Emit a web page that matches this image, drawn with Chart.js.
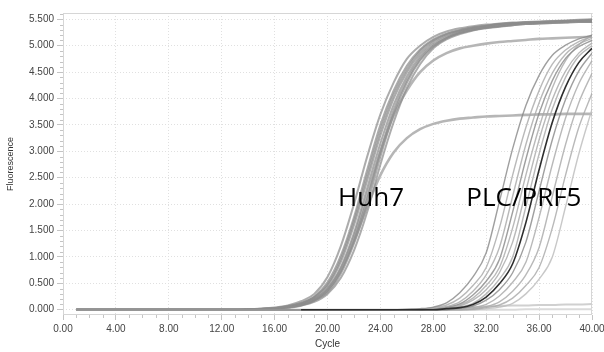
<!DOCTYPE html>
<html><head><meta charset="utf-8">
<script src="https://cdn.jsdelivr.net/npm/chart.js@4.4.1/dist/chart.umd.min.js"></script>
<style>html,body{margin:0;padding:0;background:#fff;}canvas{display:block;}</style>
</head><body>
<canvas id="c" width="604" height="352"></canvas>
<script>
// ---- data ----
const cycles = [1,2,3,4,5,6,7,8,9,10, 11,12,13,14,15,16,17,18,19,20, 21,22,23,24,25,26,27,28,29,30, 31,32,33,34,35,36,37,38,39,40];

const xTickValues = [0,4,8,12,16,20,24,28,32,36,40];
const yTickValues = [0,0.5,1,1.5,2,2.5,3,3.5,4,4.5,5,5.5];

// Huh7 amplification curves
const huh7_1 = [0,0,0,0,0,0,0,0,0,0, 0,0,0,0.01,0.02,0.04,0.08,0.16,0.3,0.62, 1.2,2.0,2.9,3.7,4.3,4.75,5.0,5.17,5.27,5.33, 5.37,5.4,5.42,5.44,5.45,5.46,5.47,5.48,5.49,5.5];
const huh7_2 = [0,0,0,0,0,0,0,0,0,0, 0,0,0,0.01,0.02,0.03,0.07,0.13,0.25,0.52, 1.02,1.75,2.65,3.5,4.15,4.62,4.93,5.12,5.23,5.3, 5.35,5.38,5.41,5.43,5.44,5.45,5.46,5.47,5.48,5.48];
const huh7_3 = [0,0,0,0,0,0,0,0,0,0, 0,0,0,0,0.01,0.03,0.06,0.12,0.23,0.45, 0.9,1.6,2.45,3.3,4.0,4.5,4.85,5.07,5.2,5.28, 5.33,5.37,5.4,5.42,5.44,5.45,5.46,5.47,5.47,5.48];
const huh7_4 = [0,0,0,0,0,0,0,0,0,0, 0,0,0,0,0.01,0.02,0.05,0.1,0.2,0.4, 0.8,1.45,2.3,3.15,3.88,4.42,4.8,5.03,5.17,5.26, 5.32,5.36,5.39,5.41,5.43,5.44,5.45,5.46,5.47,5.47];
const huh7_5 = [0,0,0,0,0,0,0,0,0,0, 0,0,0,0,0.01,0.02,0.04,0.09,0.17,0.33, 0.68,1.25,2.0,2.9,3.7,4.3,4.72,4.98,5.14,5.24, 5.3,5.34,5.37,5.4,5.42,5.43,5.44,5.45,5.46,5.46];
const huh7_6 = [0,0,0,0,0,0,0,0,0,0, 0,0,0,0,0,0.02,0.04,0.08,0.15,0.3, 0.6,1.12,1.85,2.75,3.55,4.2,4.65,4.95,5.12,5.22, 5.29,5.33,5.36,5.39,5.41,5.42,5.43,5.44,5.45,5.45];
const huh7_7 = [0,0,0,0,0,0,0,0,0,0, 0,0,0,0,0.01,0.02,0.05,0.1,0.2,0.38, 0.76,1.38,2.18,3.0,3.68,4.15,4.5,4.72,4.86,4.95, 5.0,5.04,5.07,5.09,5.11,5.13,5.14,5.15,5.16,5.17];
const huh7_8 = [0,0,0,0,0,0,0,0,0,0, 0,0,0,0,0.01,0.02,0.04,0.08,0.18,0.38, 0.75,1.3,1.95,2.55,2.98,3.25,3.42,3.52,3.58,3.62, 3.64,3.66,3.67,3.68,3.69,3.7,3.7,3.71,3.71,3.71];
const huh7_9 = [0,0,0,0,0,0,0,0,0,0, 0,0,0,0.01,0.02,0.03,0.06,0.12,0.24,0.48, 0.96,1.68,2.55,3.4,4.08,4.56,4.9,5.1,5.22,5.29, 5.34,5.38,5.41,5.43,5.44,5.45,5.46,5.47,5.48,5.49];
const huh7_10 = [0,0,0,0,0,0,0,0,0,0, 0,0,0,0,0.01,0.02,0.05,0.09,0.18,0.36, 0.72,1.32,2.1,3.0,3.78,4.35,4.75,5.0,5.15,5.24, 5.3,5.34,5.37,5.39,5.41,5.42,5.43,5.44,5.45,5.45];

// PLC/PRF5 amplification curves
const plc_1 = [0,0,0,0,0,0,0,0,0,0, 0,0,0,0,0,0,0,0,0,0, 0,0,0,0,0,0.01,0.02,0.05,0.13,0.32, 0.62,1.08,2.05,3.05,3.87,4.44,4.82,5.01,5.13,5.2];
const plc_2 = [0,0,0,0,0,0,0,0,0,0, 0,0,0,0,0,0,0,0,0,0, 0,0,0,0,0,0,0.01,0.04,0.09,0.22, 0.46,0.8,1.55,2.55,3.45,4.15,4.65,4.92,5.08,5.17];
const plc_3 = [0,0,0,0,0,0,0,0,0,0, 0,0,0,0,0,0,0,0,0,0, 0,0,0,0,0,0,0.01,0.02,0.06,0.15, 0.35,0.66,1.18,2.15,3.13,3.92,4.48,4.84,5.03,5.14];
const plc_4 = [0,0,0,0,0,0,0,0,0,0, 0,0,0,0,0,0,0,0,0,0, 0,0,0,0,0,0,0,0.02,0.05,0.11, 0.28,0.54,0.95,1.85,2.85,3.72,4.34,4.76,4.98,5.1];
const plc_5 = [0,0,0,0,0,0,0,0,0,0, 0,0,0,0,0,0,0,0,0,0, 0,0,0,0,0,0,0,0.01,0.04,0.09, 0.22,0.46,0.8,1.55,2.55,3.45,4.2,4.72,5.02,5.2];
const plc_6 = [0,0,0,0,0,0,0,0,0,0, 0,0,0,0,0,0,0,0,0,0, 0,0,0,0,0,0,0,0,0.03,0.07, 0.18,0.38,0.7,1.28,2.25,3.22,3.98,4.52,4.86,5.05];
const plc_7 = [0,0,0,0,0,0,0,0,0,0, 0,0,0,0,0,0,0,0,0,0, 0,0,0,0,0,0,0,0,0.02,0.04, 0.1,0.24,0.49,0.87,1.65,2.65,3.55,4.22,4.68,4.95];
const plc_8 = [0,0,0,0,0,0,0,0,0,0, 0,0,0,0,0,0,0,0,0,0, 0,0,0,0,0,0,0,0,0.02,0.05, 0.12,0.3,0.58,1.0,1.95,2.95,3.8,4.4,4.8,5.0];
const plc_9 = [0,0,0,0,0,0,0,0,0,0, 0,0,0,0,0,0,0,0,0,0, 0,0,0,0,0,0,0,0,0,0.03, 0.07,0.18,0.38,0.7,1.28,2.25,3.22,3.98,4.52,4.86];
const plc_10 = [0,0,0,0,0,0,0,0,0,0, 0,0,0,0,0,0,0,0,0,0, 0,0,0,0,0,0,0,0,0,0.02, 0.04,0.1,0.26,0.52,0.9,1.75,2.75,3.63,4.28,4.72];
const plc_11 = [0,0,0,0,0,0,0,0,0,0, 0,0,0,0,0,0,0,0,0,0, 0,0,0,0,0,0,0,0,0,0, 0.02,0.06,0.15,0.35,0.66,1.18,2.15,3.13,3.92,4.48];
const plc_12 = [0,0,0,0,0,0,0,0,0,0, 0,0,0,0,0,0,0,0,0,0, 0,0,0,0,0,0,0,0,0,0, 0.01,0.04,0.09,0.22,0.46,0.8,1.55,2.55,3.45,4.1];
const plc_13 = [0,0,0,0,0,0,0,0,0,0, 0,0,0,0,0,0,0,0,0,0, 0,0,0,0,0,0,0,0,0,0, 0,0.02,0.05,0.12,0.3,0.58,1.0,1.95,2.95,3.8];

// no-template controls
const ntc_1 = [0,0,0,0,0,0,0,0,0,0, 0,0,0,0,0,0,0,0,0,0, 0,0,0,0,0,0,0,0,0.01,0.03, 0.05,0.06,0.07,0.08,0.08,0.09,0.09,0.1,0.1,0.11];
const ntc_2 = [0,0,0,0,0,0,0,0,0,0, 0,0,0,0,0,0,0,0,0,0, 0,0,0,0,0,0,0,0,0,0, 0,0,0,0,0.01,0.01,0.01,0.01,0.01,0.01];

const annotations = [
  {text: 'Huh7', x: 20.8, y: 1.97},
  {text: 'PLC/PRF5', x: 30.5, y: 1.97}
];

// ---- styling ----
const huhColor = 'rgba(140,140,140,0.72)';
const huhLight = 'rgba(178,178,178,0.95)';
const plcColor = 'rgba(168,168,168,0.8)';
const plcMid = 'rgba(135,135,135,0.8)';
const plcDark = 'rgb(45,45,45)';

function ds(data, color, width) {
  return {data, borderColor: color, borderWidth: width, pointRadius: 0, fill: false,
          tension: 0.4, cubicInterpolationMode: 'monotone'};
}

const darkLine = ds(plc_7, plcDark, 1.6);
darkLine.segment = {borderColor: c => (c.p0.parsed.x < 18 ? 'rgba(150,150,150,0.8)' : plcDark)};

const datasets = [
  darkLine,
  ds(plc_1, plcMid, 1.4), ds(plc_2, plcColor, 1.4), ds(plc_3, plcColor, 1.4),
  ds(plc_4, plcMid, 1.4), ds(plc_5, plcColor, 1.4), ds(plc_6, plcColor, 1.4),
  ds(plc_8, plcColor, 1.4), ds(plc_9, plcMid, 1.4), ds(plc_10, plcColor, 1.4),
  ds(plc_11, plcColor, 1.4), ds(plc_12, plcColor, 1.4), ds(plc_13, 'rgba(190,190,190,0.85)', 1.4),
  ds(huh7_1, huhColor, 2), ds(huh7_2, huhColor, 2), ds(huh7_3, huhColor, 2),
  ds(huh7_4, huhColor, 2), ds(huh7_5, huhColor, 2), ds(huh7_6, huhColor, 2),
  ds(huh7_9, huhColor, 2), ds(huh7_10, huhColor, 2),
  ds(huh7_7, huhLight, 2.6), ds(huh7_8, huhLight, 2.6),
  ds(ntc_1, 'rgba(208,208,208,1)', 2), ds(ntc_2, 'rgba(218,218,218,1)', 2)
];

const framePlugin = {
  id: 'frame',
  beforeDatasetsDraw(chart) {
    const {ctx, chartArea: a, scales: {x, y}} = chart;
    ctx.save();
    ctx.strokeStyle = '#d6d6d6';
    ctx.lineWidth = 1;
    ctx.strokeRect(a.left + 0.5, a.top + 0.5, a.right - a.left - 1, a.bottom - a.top - 1);
    // minor ticks
    ctx.strokeStyle = '#c4c4c4';
    ctx.beginPath();
    for (let i = 0; i <= 56; i++) {
      if (i % 5 === 0) continue;
      const py = Math.round(y.getPixelForValue(i / 10)) + 0.5;
      ctx.moveTo(a.left - 3, py); ctx.lineTo(a.left, py);
    }
    for (let i = 0; i <= 40; i++) {
      if (i % 4 === 0) continue;
      const px = Math.round(x.getPixelForValue(i)) + 0.5;
      ctx.moveTo(px, a.bottom); ctx.lineTo(px, a.bottom + 3);
    }
    ctx.stroke();
    ctx.restore();
  },
  afterDatasetsDraw(chart) {
    const {ctx, scales: {x, y}} = chart;
    ctx.save();
    ctx.fillStyle = '#000';
    ctx.font = '26px "Open Sans"';
    ctx.textAlign = 'left';
    ctx.textBaseline = 'alphabetic';
    annotations.forEach(a => ctx.fillText(a.text, x.getPixelForValue(a.x), y.getPixelForValue(a.y)));
    ctx.restore();
  }
};

new Chart(document.getElementById('c'), {
  type: 'line',
  data: {labels: cycles, datasets},
  plugins: [framePlugin],
  options: {
    responsive: false,
    animation: false,
    layout: {padding: {top: 13, right: 12, left: 0, bottom: 0}},
    plugins: {legend: {display: false}, tooltip: {enabled: false}},
    scales: {
      x: {
        type: 'linear', min: 0, max: 40,
        afterBuildTicks: s => { s.ticks = xTickValues.map(v => ({value: v})); },
        afterFit: s => { s.height = 37; s.paddingLeft = 0; s.paddingRight = 0; },
        ticks: {callback: v => Number(v).toFixed(2), maxRotation: 0, autoSkip: false,
                font: {family: 'Liberation Sans', size: 10}, color: '#444', padding: 3},
        grid: {color: '#e0e0e0', lineWidth: 1, tickLength: 5, tickColor: '#c4c4c4'},
        border: {display: false, dash: [1, 2]},
        title: {display: true, text: 'Cycle', font: {family: 'Liberation Sans', size: 10},
                color: '#333', padding: {top: 0, bottom: 2}}
      },
      y: {
        type: 'linear', min: -0.1, max: 5.62,
        afterBuildTicks: s => { s.ticks = yTickValues.map(v => ({value: v})); },
        afterFit: s => { s.width = 63; s.paddingTop = 0; s.paddingBottom = 0; },
        ticks: {callback: v => Number(v).toFixed(3), font: {family: 'Liberation Sans', size: 10},
                color: '#444', padding: 3},
        grid: {color: '#e0e0e0', lineWidth: 1, tickLength: 6, tickColor: '#c4c4c4'},
        border: {display: false, dash: [1, 2]},
        title: {display: true, text: 'Fluorescence', font: {family: 'Liberation Sans', size: 9},
                color: '#333', padding: {top: 5, bottom: 0}}
      }
    }
  }
});
</script>
</body></html>
